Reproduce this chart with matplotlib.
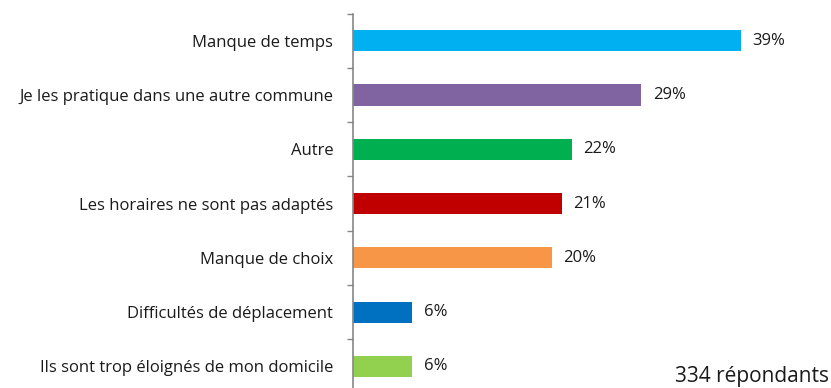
import numpy as np
import matplotlib
matplotlib.use("Agg")
import matplotlib.pyplot as plt

plt.rcParams['font.family'] = ['Open Sans', 'DejaVu Sans']

# raisons, du haut vers le bas
categories = [
    "Manque de temps",
    "Je les pratique dans une autre commune",
    "Autre",
    "Les horaires ne sont pas adaptés",
    "Manque de choix",
    "Difficultés de déplacement",
    "Ils sont trop éloignés de mon domicile",
]
values = [39, 29, 22, 21, 20, 6, 6]
colors = ["#00B0F0", "#8064A2", "#00B050", "#C00000", "#F79646", "#0070C0", "#92D050"]
note = "334 répondants"

fig = plt.figure(figsize=(8.31, 3.88), dpi=100)
ax = fig.add_axes([0.4244, -0.0145, 0.5388, 0.9797])

y = np.arange(len(categories))
ax.barh(y, values, height=0.39, color=colors)
for yi, v in zip(y, values):
    ax.text(v + 1.2, yi, f"{v}%", va="center", ha="left", fontsize=12, color="#1a1a1a")

ax.set_xlim(0, 45)
ax.set_ylim(len(categories) - 0.5, -0.5)
ax.set_yticks(y)
ax.set_yticklabels(categories, fontsize=12, color="#1a1a1a")
ax.set_yticks(np.arange(len(categories) + 1) - 0.5, minor=True)
ax.tick_params(axis="y", which="major", length=0, pad=14)
ax.tick_params(axis="y", which="minor", length=4, width=1, color="#868686")
ax.set_xticks([])

for s in ("top", "right", "bottom"):
    ax.spines[s].set_visible(False)
ax.spines["left"].set_color("#868686")
ax.spines["left"].set_linewidth(1.2)

fig.text(0.997, 0.03, note, ha="right", va="center", fontsize=15, color="#1a1a1a")

fig.savefig("out.png", dpi=100)
